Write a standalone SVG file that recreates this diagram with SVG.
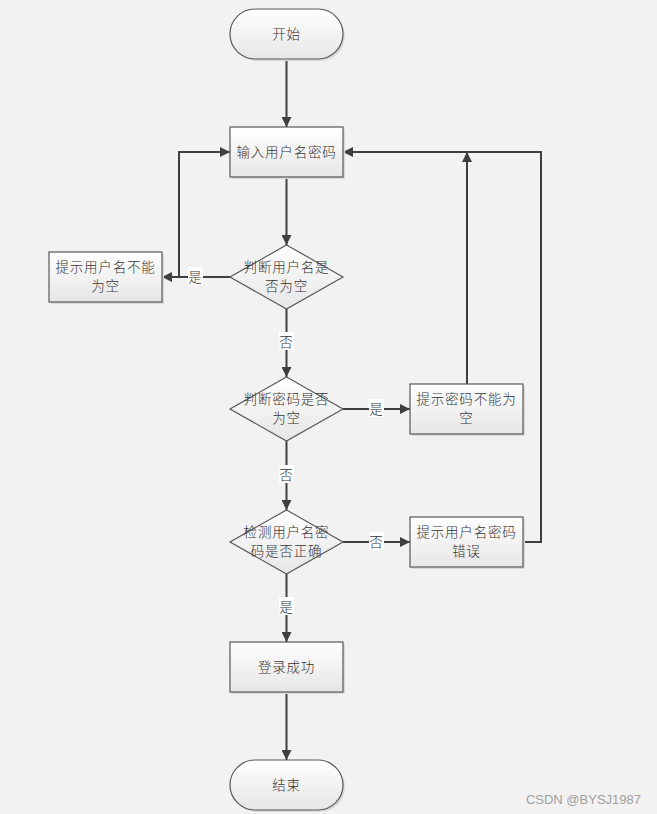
<svg xmlns="http://www.w3.org/2000/svg" width="657" height="814" viewBox="0 0 657 814">
<defs>
<linearGradient id="g" x1="0" y1="0" x2="0" y2="1">
<stop offset="0" stop-color="#ffffff"/>
<stop offset="1" stop-color="#e6e6e6"/>
</linearGradient>
<marker id="ah" viewBox="0 0 10 10" refX="10" refY="5" markerWidth="11" markerHeight="10" markerUnits="userSpaceOnUse" orient="auto">
<path d="M0,0 L10,5 L0,10 Z" fill="#3f3f3f"/>
</marker>
</defs>
<style>
.n{fill:url(#g);stroke:#595959;stroke-width:1.2}
.s{fill:#d9d9d9;stroke:none}
.t{font-family:"Noto Sans CJK SC","Noto Sans CJK JP",sans-serif;font-size:13.5px;font-weight:300;fill:#333;text-anchor:middle;dominant-baseline:central;letter-spacing:0.8px}
.c{fill:none;stroke:#3f3f3f;stroke-width:2;marker-end:url(#ah)}
.lb{fill:#ffffff}
</style>
<rect width="657" height="814" fill="#f2f2f2"/>
<g id="connectors">
<path class="c" d="M286.5,59 V127"/>
<path class="c" d="M286.5,177 V245"/>
<path class="c" d="M230,277 H162"/>
<path class="c" d="M162,277 H179 V152 H230"/>
<path class="c" d="M286.5,309 V377"/>
<path class="c" d="M343,409 H410"/>
<path class="c" d="M467,384 V152"/>
<path class="c" d="M286.5,441 V510"/>
<path class="c" d="M343,542 H410"/>
<path class="c" d="M523,542 H541 V152 H343"/>
<path class="c" d="M286.5,574 V642"/>
<path class="c" d="M286.5,692 V760"/>
<rect class="lb" x="188" y="267" width="15" height="18"/>
<text class="t" x="195.5" y="276">是</text>
<rect class="lb" x="279" y="332" width="15" height="18"/>
<text class="t" x="286.5" y="341">否</text>
<rect class="lb" x="369" y="399" width="15" height="18"/>
<text class="t" x="376.5" y="408">是</text>
<rect class="lb" x="279" y="465" width="15" height="18"/>
<text class="t" x="286.5" y="474">否</text>
<rect class="lb" x="369" y="532" width="15" height="18"/>
<text class="t" x="376.5" y="541">否</text>
<rect class="lb" x="279" y="597" width="15" height="18"/>
<text class="t" x="286.5" y="606">是</text>
</g>
<g id="start">
<rect class="s" x="232" y="11" width="113" height="50" rx="25"/>
<rect class="n" x="230" y="9" width="113" height="50" rx="25"/>
<text class="t" x="286.5" y="33">开始</text>
</g>
<g id="input">
<rect class="s" x="232" y="129" width="113" height="50"/>
<rect class="n" x="230" y="127" width="113" height="50"/>
<text class="t" x="286.5" y="151">输入用户名密码</text>
</g>
<g id="checkUser">
<path class="n" d="M286.5,245 L343,277 L286.5,309 L230,277 Z"/>
<text class="t" x="286.5" y="266">判断用户名是</text>
<text class="t" x="286.5" y="285">否为空</text>
</g>
<g id="userEmpty">
<rect class="s" x="51" y="254" width="113" height="50"/>
<rect class="n" x="49" y="252" width="113" height="50"/>
<text class="t" x="105.5" y="266">提示用户名不能</text>
<text class="t" x="105.5" y="285">为空</text>
</g>
<g id="checkPwd">
<path class="n" d="M286.5,377 L343,409 L286.5,441 L230,409 Z"/>
<text class="t" x="286.5" y="398">判断密码是否</text>
<text class="t" x="286.5" y="417">为空</text>
</g>
<g id="pwdEmpty">
<rect class="s" x="412" y="386" width="113" height="50"/>
<rect class="n" x="410" y="384" width="113" height="50"/>
<text class="t" x="466.5" y="398">提示密码不能为</text>
<text class="t" x="466.5" y="417">空</text>
</g>
<g id="checkBoth">
<path class="n" d="M286.5,510 L343,542 L286.5,574 L230,542 Z"/>
<text class="t" x="286.5" y="531">检测用户名密</text>
<text class="t" x="286.5" y="550">码是否正确</text>
</g>
<g id="wrong">
<rect class="s" x="412" y="519" width="113" height="50"/>
<rect class="n" x="410" y="517" width="113" height="50"/>
<text class="t" x="466.5" y="531">提示用户名密码</text>
<text class="t" x="466.5" y="550">错误</text>
</g>
<g id="success">
<rect class="s" x="232" y="644" width="113" height="50"/>
<rect class="n" x="230" y="642" width="113" height="50"/>
<text class="t" x="286.5" y="666">登录成功</text>
</g>
<g id="end">
<rect class="s" x="232" y="762" width="113" height="50" rx="25"/>
<rect class="n" x="230" y="760" width="113" height="50" rx="25"/>
<text class="t" x="286.5" y="784">结束</text>
</g>
<text x="641" y="799" font-family="Liberation Sans, Arial, sans-serif" font-size="13" fill="#a0a0a0" text-anchor="end" dominant-baseline="central">CSDN @BYSJ1987</text>
</svg>
